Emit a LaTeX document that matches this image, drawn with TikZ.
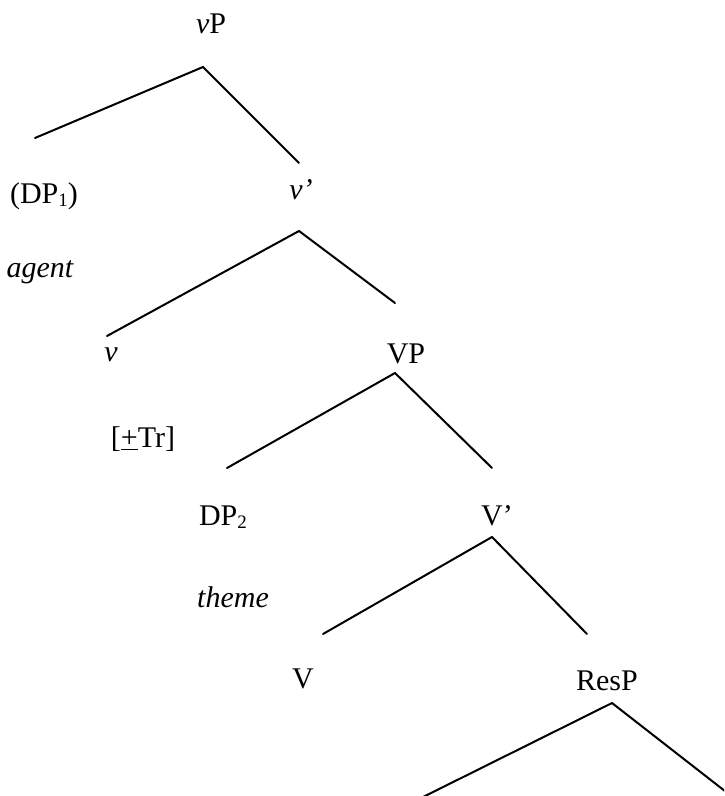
\documentclass[tikz,border=0pt]{standalone}
\usepackage{fontspec}
\setmainfont{Liberation Serif}
\usetikzlibrary{positioning}

\newcommand{\idx}[1]{\raisebox{-1.5pt}{\fontsize{9.5}{10}\selectfont #1}}

\begin{document}
\begin{tikzpicture} [ x=0.5pt, y=-0.5pt,
		      every node/.style={font=\fontsize{15}{18}\selectfont, inner sep=0pt, anchor=base},
		      branch/.style={line width=1pt, line cap=round},
		      cat/.style={},
		      role/.style={font=\fontsize{15}{18}\selectfont\itshape}
		    ]

  \useasboundingbox (0,0) rectangle (724,796);
  \clip (0,0) rectangle (724,796);

  % labels
  \node[cat] (vp)    at (211,34)  {\textit{v}P};
  \node[cat] (dp1)   at (44,204)  {(DP\idx{1})};
  \node[cat] (vbar)  at (301,200) {\textit{v’}};
  \node[role] (agent) at (40,278) {agent};
  \node[cat] (v)     at (111,361) {\textit{v}};
  \node[cat] (VP)    at (406,363) {VP};
  \node[cat] (tr)    at (143,447) {[\underline{+}Tr]};
  \node[cat] (dp2)   at (223,525) {DP\idx{2}};
  \node[cat] (Vbar)  at (497,525) {V’};
  \node[role] (theme) at (233,607) {theme};
  \node[cat] (V)     at (303,688) {V};
  \node[cat] (resp)  at (607,690) {ResP};

  % branch points
  \coordinate (vp top)   at (203,67);
  \coordinate (vp l)     at (35,138);
  \coordinate (vp r)     at (299,163);
  \coordinate (vbar top) at (299,231);
  \coordinate (vbar l)   at (107,336);
  \coordinate (vbar r)   at (395,303);
  \coordinate (VP top)   at (395,373);
  \coordinate (VP l)     at (227,468);
  \coordinate (VP r)     at (492,468);
  \coordinate (Vbar top) at (492,537);
  \coordinate (Vbar l)   at (323,634);
  \coordinate (Vbar r)   at (587,634);
  \coordinate (resp top) at (612,703);
  \coordinate (resp l)   at (419,799);
  \coordinate (resp r)   at (730,795);

  \foreach \n in {vp,vbar,VP,Vbar,resp}
    \draw[branch] (\n\space l) -- (\n\space top) -- (\n\space r);
\end{tikzpicture}
\end{document}
